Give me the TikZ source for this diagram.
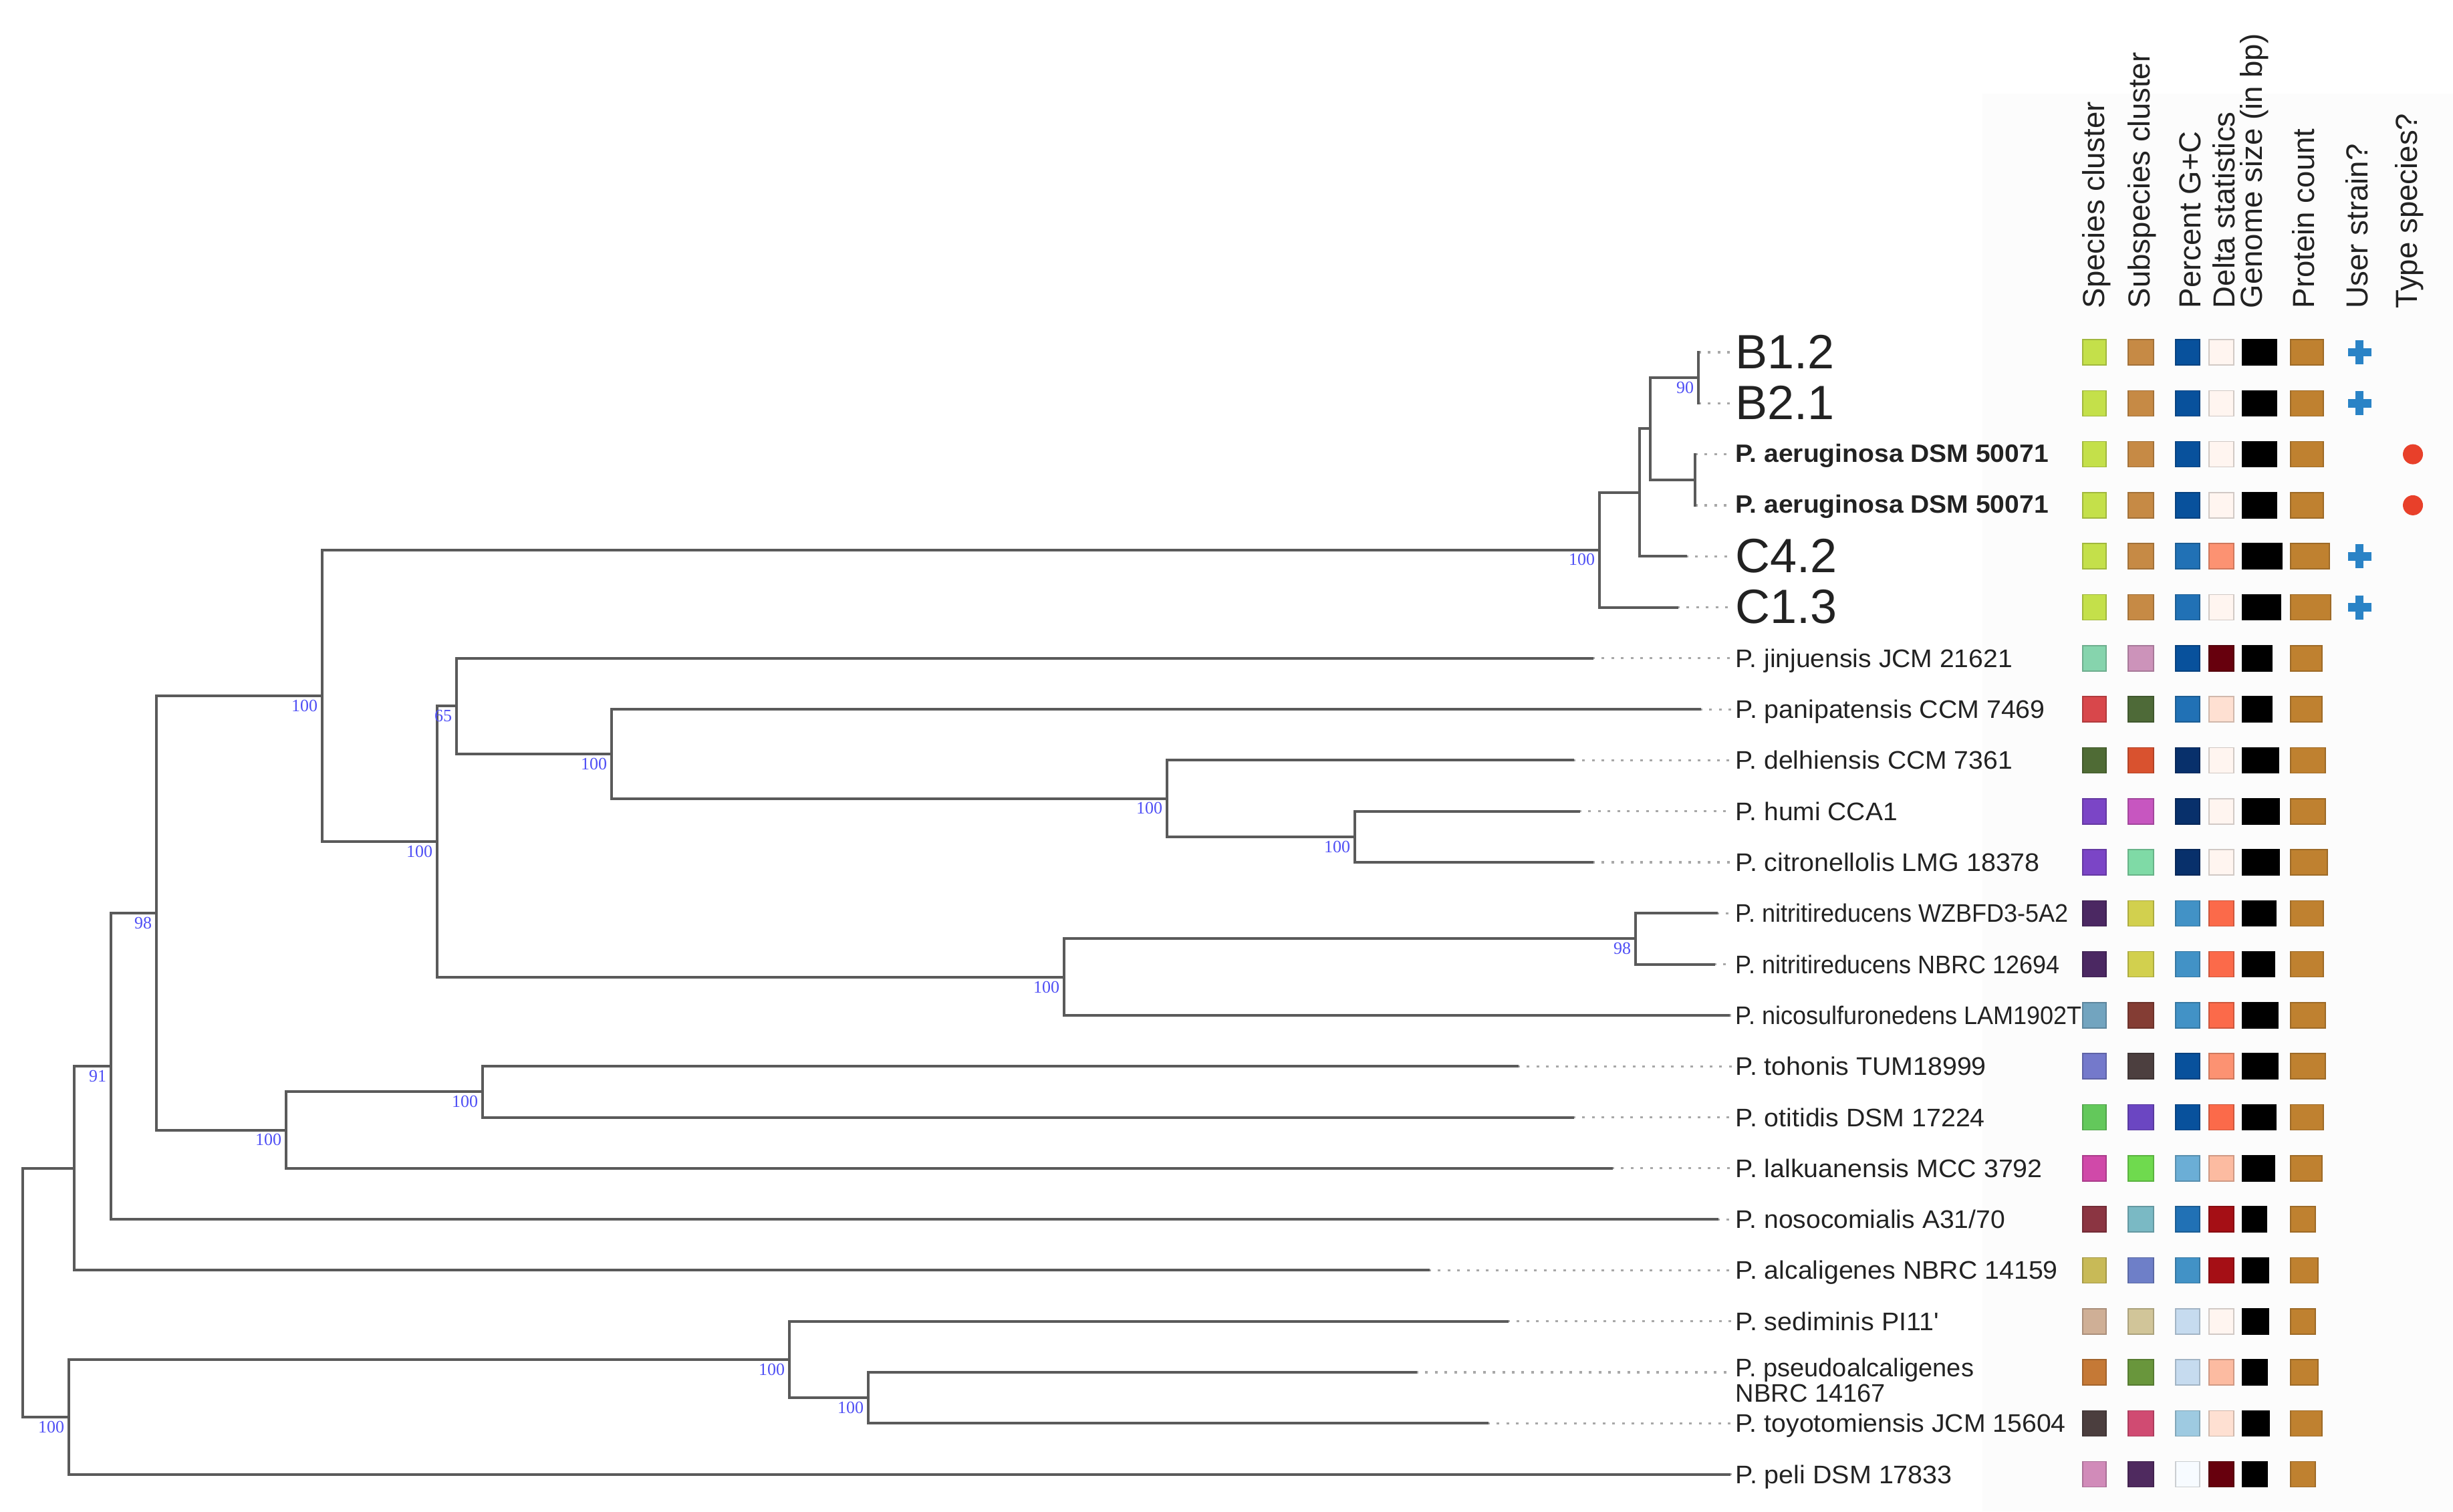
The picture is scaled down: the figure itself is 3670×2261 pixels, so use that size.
\documentclass[tikz,border=0pt]{standalone}
\usepackage{graphicx}
\usepackage{fontspec}
\setmainfont[Ligatures=TeXOff]{Liberation Sans}
\newfontfamily\bootfont{Liberation Serif}
% general colours
\definecolor{treegray}{HTML}{5A5A5A}
\definecolor{dotgray}{HTML}{A8A8A8}
\definecolor{bootblue}{HTML}{4F4FF5}
\definecolor{labcol}{HTML}{222222}
\definecolor{plusblue}{HTML}{2A83C6}
\definecolor{dotred}{HTML}{E8402A}
\definecolor{prot}{HTML}{BF8130}
\definecolor{genome}{HTML}{000000}
% species / subspecies colours
\definecolor{lime}{HTML}{C4E04A}
\definecolor{tanb}{HTML}{C68A45}
\definecolor{mint}{HTML}{86D4AD}
\definecolor{mauve}{HTML}{CC93BA}
\definecolor{redc}{HTML}{D8474B}
\definecolor{dkgreen}{HTML}{4E6A38}
\definecolor{olive}{HTML}{4F6B35}
\definecolor{orred}{HTML}{D9522F}
\definecolor{purp}{HTML}{7B45C6}
\definecolor{magen}{HTML}{C756C0}
\definecolor{minttwo}{HTML}{7FDAA6}
\definecolor{dkpurp}{HTML}{4B2862}
\definecolor{yell}{HTML}{D2D04E}
\definecolor{steel}{HTML}{72A4BF}
\definecolor{brred}{HTML}{843D34}
\definecolor{peri}{HTML}{7479CB}
\definecolor{dkbrown}{HTML}{4C3F3F}
\definecolor{greenone}{HTML}{63C85B}
\definecolor{purptwo}{HTML}{6B46C2}
\definecolor{pinkone}{HTML}{D049A9}
\definecolor{greentwo}{HTML}{6FDA4E}
\definecolor{maroon}{HTML}{8B3542}
\definecolor{tealone}{HTML}{7AB9C4}
\definecolor{mustard}{HTML}{C8BA57}
\definecolor{peritwo}{HTML}{6E7FC8}
\definecolor{tantwo}{HTML}{CFAF96}
\definecolor{beige}{HTML}{D1C599}
\definecolor{orbrown}{HTML}{C57936}
\definecolor{greenthree}{HTML}{69963C}
\definecolor{dkbrtwo}{HTML}{4B3E3E}
\definecolor{pinkred}{HTML}{D04B72}
\definecolor{pinktwo}{HTML}{D18BB9}
\definecolor{dkpurptwo}{HTML}{4F2A5F}
% G+C blues
\definecolor{bA}{HTML}{08519C}
\definecolor{bB}{HTML}{2171B5}
\definecolor{bC}{HTML}{08306B}
\definecolor{bD}{HTML}{4292C6}
\definecolor{bE}{HTML}{6BAED6}
\definecolor{bF}{HTML}{9ECAE1}
\definecolor{bG}{HTML}{C6DBEF}
\definecolor{bH}{HTML}{F7FBFF}
% delta reds
\definecolor{rA}{HTML}{FFF5F0}
\definecolor{rB}{HTML}{FEE0D2}
\definecolor{rC}{HTML}{FCBBA1}
\definecolor{rD}{HTML}{FC9272}
\definecolor{rE}{HTML}{FB6A4A}
\definecolor{rF}{HTML}{A50F15}
\definecolor{rG}{HTML}{67000D}

\tikzset{
  branch/.style={draw=treegray, line width=1pt, line cap=rect},
  leafdots/.style={draw=dotgray, line width=0.8pt, dash pattern=on 1pt off 2.6pt},
  boot/.style={font=\bootfont\fontsize{6.5}{7}\selectfont, text=bootblue, inner sep=0pt, anchor=north east},
  leaf/.style={font=\fontsize{9.5}{11}\selectfont, text=labcol, inner sep=0pt, anchor=base west},
  boldleaf/.style={font=\bfseries\fontsize{9.4}{11}\selectfont, text=labcol, inner sep=0pt, anchor=base west},
  bigleaf/.style={font=\fontsize{18}{20}\selectfont, text=labcol, inner sep=0pt, anchor=base west},
  twoline/.style={font=\fontsize{9.5}{8.5}\selectfont, text=labcol, inner sep=0pt, anchor=north west, align=left},
  header/.style={rotate=90, anchor=base west, inner sep=0pt, font=\fontsize{11.4}{13}\selectfont, text=labcol},
  cell/.style={fill=#1, draw=#1!82!black, line width=0.4pt},
  plusmark/.style={draw=plusblue, line width=3.2pt},
  typedot/.style={fill=dotred}
}

\newcommand{\fitw}[2]{\resizebox{#1pt}{\height}{#2}}
\newcommand{\rowcells}[7]{%
  \path[cell=#2] (3116,#1-19) rectangle (3151,#1+19);
  \path[cell=#3] (3184,#1-19) rectangle (3222,#1+19);
  \path[cell=#4] (3255,#1-19) rectangle (3291,#1+19);
  \path[cell=#5] (3305,#1-19) rectangle (3342,#1+19);
  \path[cell=genome] (3355,#1-19) rectangle (#6,#1+19);
  \path[cell=prot] (3427,#1-19) rectangle (#7,#1+19);
}
\newcommand{\userplus}[1]{%
  \draw[plusmark] (3513,#1) -- (3548,#1);
  \draw[plusmark] (3530,#1-18) -- (3530,#1+18);
}

\begin{document}
\begin{tikzpicture}[x=0.25pt,y=-0.25pt]
\useasboundingbox (0,0) rectangle (3670,2261);
\fill[black!1.2] (2966,140) rectangle (3670,2261);

% ---------- column headers ----------
\node[header] (h1) at (3148,462) {Species cluster};
\node[header] (h2) at (3216,462) {Subspecies cluster};
\node[header] (h3) at (3292,462) {Percent G+C};
\node[header] (h4) at (3343,462) {Delta statistics};
\node[header] (h5) at (3384,462) {Genome size (in bp)};
\node[header] (h6) at (3462,462) {Protein count};
\node[header] (h7) at (3542,462) {User strain?};
\node[header] (h8) at (3616,462) {Type species?};

% ---------- internal nodes ----------
\coordinate (root) at (34,1933.7);
\coordinate (n103) at (103,2119.75);
\coordinate (n111) at (111,1747.65);
\coordinate (n166) at (166,1594.9);
\coordinate (n234) at (234,1365.7);
\coordinate (n428) at (428,1690.6);
\coordinate (n722) at (722,1633.35);
\coordinate (n482) at (482,1040.8);
\coordinate (n654) at (654,1259.0);
\coordinate (n683) at (683,1056.3);
\coordinate (n915) at (915,1127.9);
\coordinate (n1746) at (1746,1194.6);
\coordinate (n2027) at (2027,1251.85);
\coordinate (n1592) at (1592,1461.7);
\coordinate (n2447) at (2447,1404.45);
\coordinate (n2393) at (2393,822.65);
\coordinate (n2453) at (2453,736.8);
\coordinate (n2469) at (2469,641.45);
\coordinate (n2541) at (2541,565.15);
\coordinate (n2536) at (2536,717.75);
\coordinate (n1181) at (1181,2033.9);
\coordinate (n1299) at (1299,2091.15);

% ---------- leaf tips ----------
\coordinate (t1) at (2541,527);
\coordinate (t2) at (2541,603.3);
\coordinate (t3) at (2536,679.6);
\coordinate (t4) at (2536,755.9);
\coordinate (t5) at (2522,832.2);
\coordinate (t6) at (2509,908.5);
\coordinate (t7) at (2382,984.8);
\coordinate (t8) at (2543,1061.1);
\coordinate (t9) at (2353,1137.4);
\coordinate (t10) at (2362,1213.7);
\coordinate (t11) at (2382,1290);
\coordinate (t12) at (2568,1366.3);
\coordinate (t13) at (2564,1442.6);
\coordinate (t14) at (2586,1518.9);
\coordinate (t15) at (2270,1595.2);
\coordinate (t16) at (2353,1671.5);
\coordinate (t17) at (2411,1747.8);
\coordinate (t18) at (2569,1824.1);
\coordinate (t19) at (2137,1900.4);
\coordinate (t20) at (2255,1976.7);
\coordinate (t21) at (2118,2053);
\coordinate (t22) at (2225,2129.3);
\coordinate (t23) at (2587,2205.6);

% dotted ends
\foreach \i/\y in {1/527,2/603.3,3/679.6,4/755.9,5/832.2,6/908.5,7/984.8,8/1061.1,9/1137.4,10/1213.7,11/1290,12/1366.3,13/1442.6,14/1518.9,15/1595.2,16/1671.5,17/1747.8,18/1824.1,19/1900.4,20/1976.7,21/2053,22/2129.3,23/2205.6}
  \coordinate (d\i) at (2591,\y);
\foreach \i in {1,...,23}
  \draw[leafdots] (t\i) -- (d\i);

% ---------- branches ----------
\foreach \p/\c in {root/n111, root/n103,
  n111/n166, n111/t19,
  n166/n234, n166/t18,
  n234/n482, n234/n428,
  n428/n722, n428/t17,
  n722/t15, n722/t16,
  n482/n2393, n482/n654,
  n2393/n2453, n2393/t6,
  n2453/n2469, n2453/t5,
  n2469/n2541, n2469/n2536,
  n2541/t1, n2541/t2,
  n2536/t3, n2536/t4,
  n654/n683, n654/n1592,
  n683/t7, n683/n915,
  n915/t8, n915/n1746,
  n1746/t9, n1746/n2027,
  n2027/t10, n2027/t11,
  n1592/n2447, n1592/t14,
  n2447/t12, n2447/t13,
  n103/n1181, n103/t23,
  n1181/t20, n1181/n1299,
  n1299/t21, n1299/t22}
  \draw[branch] (\p) |- (\c);

% ---------- bootstrap values ----------
\foreach \c/\v in {n2541/90, n2393/100, n482/100, n683/65, n915/100, n1746/100,
  n2027/100, n654/100, n1592/100, n2447/98, n234/98, n428/100, n722/100,
  n166/91, n1181/100, n1299/100, n103/100}
  \node[boot] (b\c) at ([xshift=-1.5pt,yshift=-1.3pt]\c) {\v};

% ---------- leaf labels ----------
\node[bigleaf] (L1) at (2596,551) {B1.2};
\node[bigleaf] (L2) at (2596,627.3) {B2.1};
\node[boldleaf] (L3) at (2596,691) {\fitw{117}{P. aeruginosa DSM 50071}};
\node[boldleaf] (L4) at (2596,767.3) {\fitw{117}{P. aeruginosa DSM 50071}};
\node[bigleaf] (L5) at (2596,856.2) {C4.2};
\node[bigleaf] (L6) at (2596,932.5) {C1.3};
\node[leaf] (L7) at (2596,998.3) {\fitw{103.5}{P. jinjuensis JCM 21621}};
\node[leaf] (L8) at (2596,1074.6) {\fitw{115.75}{P. panipatensis CCM 7469}};
\node[leaf] (L9) at (2596,1150.9) {\fitw{103.5}{P. delhiensis CCM 7361}};
\node[leaf] (L10) at (2596,1227.2) {\fitw{60.5}{P. humi CCA1}};
\node[leaf] (L11) at (2596,1303.5) {\fitw{113.75}{P. citronellolis LMG 18378}};
\node[leaf] (L12) at (2596,1379.8) {\fitw{124.5}{P. nitritireducens WZBFD3-5A2}};
\node[leaf] (L13) at (2596,1456.1) {\fitw{121.25}{P. nitritireducens NBRC 12694}};
\node[leaf] (L14) at (2596,1532.4) {\fitw{129.5}{P. nicosulfuronedens LAM1902T}};
\node[leaf] (L15) at (2596,1608.7) {\fitw{93.75}{P. tohonis TUM18999}};
\node[leaf] (L16) at (2596,1685) {\fitw{93.25}{P. otitidis DSM 17224}};
\node[leaf] (L17) at (2596,1761.3) {\fitw{114.75}{P. lalkuanensis MCC 3792}};
\node[leaf] (L18) at (2596,1837.6) {\fitw{100.75}{P. nosocomialis A31/70}};
\node[leaf] (L19) at (2596,1913.9) {\fitw{120.5}{P. alcaligenes NBRC 14159}};
\node[leaf] (L20) at (2596,1990.2) {\fitw{76}{P. sediminis PI11'}};
\node[twoline] (L21) at (2596,2031) {P. pseudoalcaligenes\\NBRC 14167};
\node[leaf] (L22) at (2596,2142.8) {\fitw{123.5}{P. toyotomiensis JCM 15604}};
\node[leaf] (L23) at (2596,2219.1) {\fitw{81}{P. peli DSM 17833}};

% ---------- data columns ----------
\rowcells{527}{lime}{tanb}{bA}{rA}{3406}{3476}
\rowcells{603.3}{lime}{tanb}{bA}{rA}{3406}{3476}
\rowcells{679.6}{lime}{tanb}{bA}{rA}{3406}{3476}
\rowcells{755.9}{lime}{tanb}{bA}{rA}{3406}{3476}
\rowcells{832.2}{lime}{tanb}{bB}{rD}{3414}{3485}
\rowcells{908.5}{lime}{tanb}{bB}{rA}{3412}{3487}
\rowcells{984.8}{mint}{mauve}{bA}{rG}{3399}{3474}
\rowcells{1061.1}{redc}{dkgreen}{bB}{rB}{3399}{3474}
\rowcells{1137.4}{olive}{orred}{bC}{rA}{3409}{3479}
\rowcells{1213.7}{purp}{magen}{bC}{rA}{3410}{3479}
\rowcells{1290}{purp}{minttwo}{bC}{rA}{3410}{3482}
\rowcells{1366.3}{dkpurp}{yell}{bD}{rE}{3405}{3476}
\rowcells{1442.6}{dkpurp}{yell}{bD}{rE}{3403}{3476}
\rowcells{1518.9}{steel}{brred}{bD}{rE}{3408}{3479}
\rowcells{1595.2}{peri}{dkbrown}{bA}{rD}{3408}{3479}
\rowcells{1671.5}{greenone}{purptwo}{bA}{rE}{3405}{3476}
\rowcells{1747.8}{pinkone}{greentwo}{bE}{rC}{3403}{3474}
\rowcells{1824.1}{maroon}{tealone}{bB}{rF}{3391}{3464}
\rowcells{1900.4}{mustard}{peritwo}{bD}{rF}{3394}{3468}
\rowcells{1976.7}{tantwo}{beige}{bG}{rA}{3394}{3464}
\rowcells{2053}{orbrown}{greenthree}{bG}{rC}{3392}{3468}
\rowcells{2129.3}{dkbrtwo}{pinkred}{bF}{rB}{3395}{3474}
\rowcells{2205.6}{pinktwo}{dkpurptwo}{bH}{rG}{3392}{3464}

% user strains and type species
\userplus{527}
\userplus{603.3}
\userplus{832.2}
\userplus{908.5}
\fill[typedot] (3610,679.6) circle[radius=15];
\fill[typedot] (3610,755.9) circle[radius=15];
\end{tikzpicture}
\end{document}
